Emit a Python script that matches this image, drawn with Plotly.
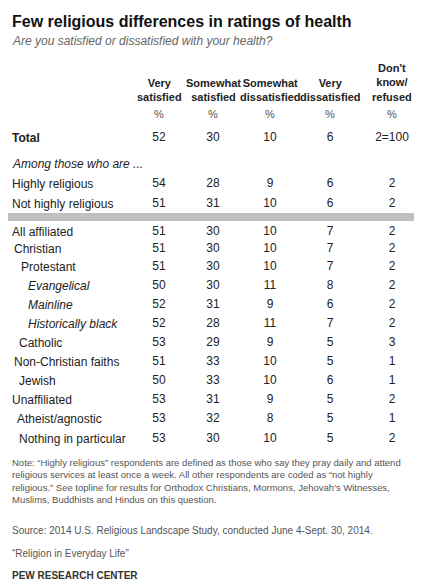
import plotly.graph_objects as go

# table data
headers = ["Very<br>satisfied", "Somewhat<br>satisfied", "Somewhat<br>dissatisfied",
           "Very<br>dissatisfied", "Don't<br>know/<br>refused"]
row_labels = ["Total", "Highly religious", "Not highly religious", "All affiliated", "Christian",
              "Protestant", "Evangelical", "Mainline", "Historically black", "Catholic",
              "Non-Christian faiths", "Jewish", "Unaffiliated", "Atheist/agnostic", "Nothing in particular"]
very_sat = [52, 54, 51, 51, 51, 51, 50, 52, 52, 53, 51, 50, 53, 53, 53]
somewhat_sat = [30, 28, 31, 30, 30, 30, 30, 31, 28, 29, 33, 33, 31, 32, 30]
somewhat_dis = [10, 9, 10, 10, 10, 10, 11, 9, 11, 9, 10, 10, 9, 8, 10]
very_dis = [6, 6, 6, 7, 7, 7, 8, 6, 7, 5, 5, 6, 5, 5, 5]
dont_know = ["2=100", "2", "2", "2", "2", "2", "2", "2", "2", "3", "1", "1", "2", "1", "2"]

# layout (pixel-like coordinates)
row_y = [130, 176, 196, 224, 241, 259, 278, 297, 316, 335, 354, 373, 392, 411, 431]
indent = [0, 0, 0, 0, 2, 9, 16, 16, 16, 7, 2, 7, 0, 5, 7]
italic_rows = {"Evangelical", "Mainline", "Historically black"}
col_x = [151, 205, 262, 322, 384]
FONT = "Liberation Sans"
DARK = "#222222"

fig = go.Figure()
columns = [very_sat, somewhat_sat, somewhat_dis, very_dis, dont_know]
for cx, vals in zip(col_x, columns):
    fig.add_trace(go.Scatter(x=[cx] * len(vals), y=row_y, mode="text",
                             text=[str(v) for v in vals], textposition="middle center",
                             textfont=dict(family=FONT, size=12, color=DARK),
                             hoverinfo="skip", showlegend=False))
    fig.add_annotation(x=cx, y=106, text="%", showarrow=False,
                       font=dict(family=FONT, size=11, color="#555555"))

for cx, h in zip(col_x, headers):
    fig.add_annotation(x=cx, y=97, text="<b>" + h + "</b>", showarrow=False, yanchor="bottom",
                       font=dict(family=FONT, size=11, color=DARK))

for lab, y, ind in zip(row_labels, row_y, indent):
    t = lab
    if lab == "Total":
        t = "<b>Total</b>"
    elif lab in italic_rows:
        t = "<i>" + lab + "</i>"
    fig.add_annotation(x=2 + ind, y=y, text=t, showarrow=False, xanchor="left",
                       font=dict(family=FONT, size=12, color=DARK))

fig.add_annotation(x=2, y=156, text="<i>Among those who are ...</i>", showarrow=False,
                   xanchor="left", font=dict(family=FONT, size=12, color=DARK))

# grey divider
fig.add_shape(type="rect", x0=0, x1=422, y0=205, y1=213, fillcolor="#c0c0c0", line_width=0)

fig.add_annotation(x=2, y=13, text="<b>Few religious differences in ratings of health</b>",
                   showarrow=False, xanchor="left", font=dict(family=FONT, size=16, color="#111111"))
fig.add_annotation(x=2, y=33, text="<i>Are you satisfied or dissatisfied with your health?</i>",
                   showarrow=False, xanchor="left", font=dict(family=FONT, size=12, color="#666666"))

note = ("Note: “Highly religious” respondents are defined as those who say they pray daily and attend<br>"
        "religious services at least once a week. All other respondents are coded as “not highly<br>"
        "religious.” See topline for results for Orthodox Christians, Mormons, Jehovah's Witnesses,<br>"
        "Muslims, Buddhists and Hindus on this question.")
fig.add_annotation(x=2, y=447, text=note, showarrow=False, xanchor="left", yanchor="top", align="left",
                   font=dict(family=FONT, size=9.5, color="#555555"))
fig.add_annotation(x=2, y=522, text="Source: 2014 U.S. Religious Landscape Study, conducted June 4-Sept. 30, 2014.",
                   showarrow=False, xanchor="left", font=dict(family=FONT, size=10, color="#555555"))
fig.add_annotation(x=2, y=545, text="“Religion in Everyday Life”", showarrow=False, xanchor="left",
                   font=dict(family=FONT, size=10, color="#555555"))
fig.add_annotation(x=2, y=567, text="<b>PEW RESEARCH CENTER</b>", showarrow=False, xanchor="left",
                   font=dict(family=FONT, size=10, color="#333333"))

fig.update_layout(width=422, height=583, margin=dict(l=0, r=0, t=0, b=0),
                  plot_bgcolor="white", paper_bgcolor="white",
                  xaxis=dict(range=[0, 422], visible=False, fixedrange=True),
                  yaxis=dict(range=[583, 0], visible=False, fixedrange=True))
fig.write_html("out.html")
